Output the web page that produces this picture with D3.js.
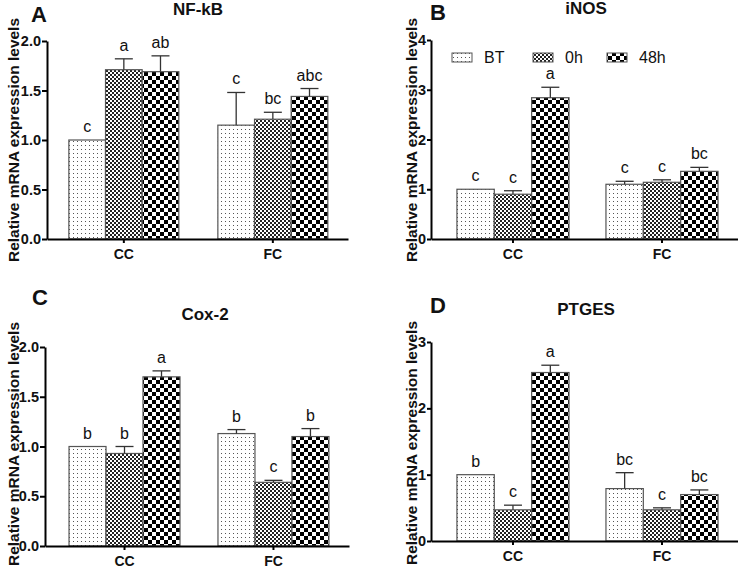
<!DOCTYPE html>
<html><head><meta charset="utf-8">
<script src="https://cdn.jsdelivr.net/npm/d3@7"></script>
<style>
body{margin:0;background:#fff;}
text{font-family:Arial,"Liberation Sans",Helvetica,sans-serif;}
</style></head>
<body><svg id="c" width="738" height="573"></svg>
<script>
// ---- data ----
const categories = ["CC", "FC"];
const series = ["BT", "0h", "48h"];
const genes = ["NF-kB", "iNOS", "Cox-2", "PTGES"];
const panelLetters = ["A", "B", "C", "D"];
const yLabel = "Relative mRNA expression levels";

// means [CC: BT,0h,48h], [FC: BT,0h,48h]
const nfkbMean = [[1.00, 1.71, 1.69], [1.15, 1.21, 1.44]];
const nfkbErr  = [[0.00, 0.11, 0.16], [0.33, 0.07, 0.08]];
const nfkbSig  = [["c", "a", "ab"], ["c", "bc", "abc"]];

const inosMean = [[1.00, 0.90, 2.84], [1.10, 1.14, 1.36]];
const inosErr  = [[0.00, 0.07, 0.21], [0.06, 0.05, 0.08]];
const inosSig  = [["c", "c", "a"], ["c", "c", "bc"]];

const coxMean = [[1.00, 0.93, 1.70], [1.13, 0.64, 1.10]];
const coxErr  = [[0.00, 0.07, 0.06], [0.04, 0.02, 0.08]];
const coxSig  = [["b", "b", "a"], ["b", "c", "b"]];

const ptgesMean = [[1.00, 0.47, 2.54], [0.79, 0.47, 0.70]];
const ptgesErr  = [[0.00, 0.07, 0.11], [0.24, 0.03, 0.07]];
const ptgesSig  = [["b", "c", "a"], ["bc", "c", "bc"]];

const yTicksA = [0, 0.5, 1.0, 1.5, 2.0];
const yTicksB = [0, 1, 2, 3, 4];
const yTicksC = [0, 0.5, 1.0, 1.5, 2.0];
const yTicksD = [0, 1, 2, 3];

// ---- layout ----
const panels = [
  {mean: nfkbMean, err: nfkbErr, sig: nfkbSig, ticks: yTicksA, fmt: ".1f", ymax: 2,
   x0: 47, x1: 348, pi: 0.262, po: 0.141, al: 0.52, y0: 239, y1: 41, tick: 5,
   letterX: 31, letterY: 22, titleX: 198, titleY: 15, ylabX: 19, ylabY: 140, legend: false},
  {mean: inosMean, err: inosErr, sig: inosSig, ticks: yTicksB, fmt: "d", ymax: 4,
   x0: 431, x1: 738, pi: 0.248, po: 0.154, al: 0.565, y0: 239, y1: 40, tick: 4,
   letterX: 430, letterY: 20, titleX: 586, titleY: 14, ylabX: 417, ylabY: 140, legend: true},
  {mean: coxMean, err: coxErr, sig: coxSig, ticks: yTicksC, fmt: ".1f", ymax: 2,
   x0: 45, x1: 349, pi: 0.255, po: 0.148, al: 0.545, y0: 546, y1: 347, tick: 5,
   letterX: 32, letterY: 305, titleX: 205, titleY: 320, ylabX: 19, ylabY: 444, legend: false},
  {mean: ptgesMean, err: ptgesErr, sig: ptgesSig, ticks: yTicksD, fmt: "d", ymax: 3,
   x0: 431, x1: 738, pi: 0.248, po: 0.154, al: 0.565, y0: 541, y1: 342, tick: 4,
   letterX: 430, letterY: 313, titleX: 586, titleY: 315, ylabX: 417, ylabY: 443, legend: false}
];

const svg = d3.select("#c");
const defs = svg.append("defs");

// patterns
const pBT = defs.append("pattern").attr("id", "pBT").attr("patternUnits", "userSpaceOnUse")
  .attr("width", 4).attr("height", 4);
pBT.append("rect").attr("width", 4).attr("height", 4).attr("fill", "#fff");
pBT.append("rect").attr("x", 1).attr("y", 1).attr("width", 1).attr("height", 1).attr("fill", "#555");

const p0h = defs.append("pattern").attr("id", "p0h").attr("patternUnits", "userSpaceOnUse")
  .attr("width", 4).attr("height", 4);
p0h.append("rect").attr("width", 4).attr("height", 4).attr("fill", "#fff");
p0h.append("rect").attr("x", 0).attr("y", 0).attr("width", 2).attr("height", 2).attr("fill", "#222");
p0h.append("rect").attr("x", 2).attr("y", 2).attr("width", 2).attr("height", 2).attr("fill", "#222");

const p48 = defs.append("pattern").attr("id", "p48").attr("patternUnits", "userSpaceOnUse")
  .attr("width", 8).attr("height", 8);
p48.append("rect").attr("width", 8).attr("height", 8).attr("fill", "#fff");
p48.append("rect").attr("x", 0).attr("y", 0).attr("width", 4).attr("height", 4).attr("fill", "#000");
p48.append("rect").attr("x", 4).attr("y", 4).attr("width", 4).attr("height", 4).attr("fill", "#000");

const fills = {"BT": "url(#pBT)", "0h": "url(#p0h)", "48h": "url(#p48)"};

panels.forEach((p, i) => {
  const g = svg.append("g");
  const x = d3.scaleBand().domain(categories).range([p.x0, p.x1])
    .paddingInner(p.pi).paddingOuter(p.po).align(p.al);
  const xs = d3.scaleBand().domain(series).range([0, x.bandwidth()]).padding(0);
  const y = d3.scaleLinear().domain([0, p.ymax]).range([p.y0, p.y1]);

  // bars
  categories.forEach((cat, ci) => {
    series.forEach((s, si) => {
      const m = p.mean[ci][si], e = p.err[ci][si];
      const bx = x(cat) + xs(s);
      g.append("rect")
        .attr("x", bx).attr("y", y(m))
        .attr("width", xs.bandwidth()).attr("height", y(0) - y(m))
        .attr("fill", fills[s]).attr("stroke", "#555").attr("stroke-width", 1.2);
      const cx = bx + xs.bandwidth() / 2;
      if (e > 0) {
        g.append("line").attr("x1", cx).attr("x2", cx).attr("y1", y(m)).attr("y2", y(m + e))
          .attr("stroke", "#333").attr("stroke-width", 1.3);
        g.append("line").attr("x1", cx - 9).attr("x2", cx + 9).attr("y1", y(m + e)).attr("y2", y(m + e))
          .attr("stroke", "#333").attr("stroke-width", 1.3);
      }
      g.append("text").attr("x", cx).attr("y", y(m + e) - 8)
        .attr("text-anchor", "middle").attr("font-size", 16).attr("fill", "#111")
        .text(p.sig[ci][si]);
    });
  });

  // y axis
  const ya = g.append("g").attr("transform", `translate(${p.x0},0)`)
    .call(d3.axisLeft(y).tickValues(p.ticks).tickFormat(d3.format(p.fmt)).tickSize(p.tick).tickSizeOuter(0).tickPadding(1));
  ya.selectAll("path,line").attr("stroke", "#000").attr("stroke-width", 2);
  ya.selectAll("text").attr("font-size", 14.5).attr("font-weight", "bold").attr("fill", "#111");

  // x axis
  const xa = g.append("g").attr("transform", `translate(0,${p.y0})`)
    .call(d3.axisBottom(x).tickSize(4).tickSizeOuter(0).tickPadding(6));
  xa.selectAll("path,line").attr("stroke", "#000").attr("stroke-width", 2);
  xa.selectAll("text").attr("font-size", 14).attr("font-weight", "bold").attr("fill", "#111");

  // titles
  g.append("text").attr("x", p.titleX).attr("y", p.titleY).attr("text-anchor", "middle")
    .attr("font-size", 17).attr("font-weight", "bold").attr("fill", "#111").text(genes[i]);
  g.append("text").attr("x", p.letterX).attr("y", p.letterY)
    .attr("font-size", 22).attr("font-weight", "bold").attr("fill", "#111").text(panelLetters[i]);
  g.append("text").attr("transform", `translate(${p.ylabX},${p.ylabY}) rotate(-90)`)
    .attr("text-anchor", "middle").attr("font-size", 15.5).attr("font-weight", "bold").attr("fill", "#111")
    .text(yLabel);

  if (p.legend) {
    const legX = [452, 533, 607];
    series.forEach((s, si) => {
      g.append("rect").attr("x", legX[si]).attr("y", 53).attr("width", 20).attr("height", 9)
        .attr("fill", fills[s]).attr("stroke", "#555").attr("stroke-width", 1);
      g.append("text").attr("x", legX[si] + 32).attr("y", 63).attr("font-size", 16).attr("fill", "#111").text(s);
    });
  }
});
</script></body></html>
